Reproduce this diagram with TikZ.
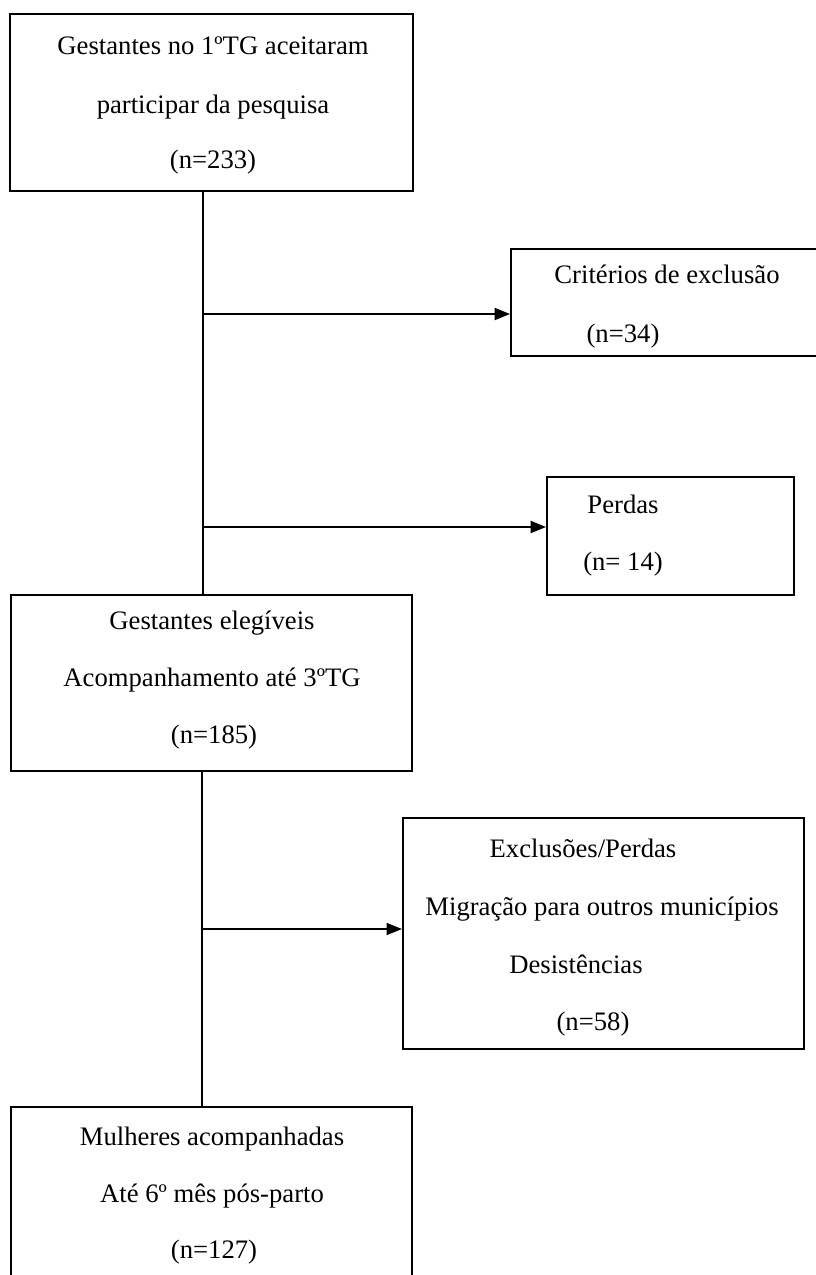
\documentclass[tikz,border=0pt]{standalone}
\usepackage{fontspec}
\setmainfont{Liberation Serif}
\usetikzlibrary{arrows.meta}
\tikzset{
  box/.style={draw, line width=1.5pt, inner sep=0pt},
  txt/.style={anchor=base, inner sep=0pt, font=\fontsize{20pt}{24pt}\selectfont},
  link/.style={line width=1.5pt},
  flow/.style={line width=1.5pt, -{Triangle[length=11.5pt, width=9pt]}}
}
\begin{document}
\begin{tikzpicture}[x=0.75pt, y=-0.75pt]
\useasboundingbox (0,0) rectangle (816,1275);
\clip (0,0) rectangle (816,1275);
\node[box, minimum width=302.25pt, minimum height=132.75pt] (start) at (211.5,102.5) {};
\node[box, minimum width=239.25pt, minimum height=80.25pt] (excl) at (670.5,302.5) {};
\node[box, minimum width=185.25pt, minimum height=88.5pt] (loss) at (670.5,536) {};
\node[box, minimum width=300.75pt, minimum height=132pt] (elig) at (211.5,683) {};
\node[box, minimum width=300.75pt, minimum height=173.25pt] (drop) at (603.5,933.5) {};
\node[box, minimum width=300.75pt, minimum height=132pt] (final) at (211.5,1195) {};
\node[txt] (start1) at (213,54) {Gestantes no 1ºTG aceitaram};
\node[txt] (start2) at (213,113) {participar da pesquisa};
\node[txt] (start3) at (213,168) {(n=233)};
\node[txt] (excl1) at (667,283) {Critérios de exclusão};
\node[txt] (excl2) at (623,342) {(n=34)};
\node[txt] (loss1) at (623,513) {Perdas};
\node[txt] (loss2) at (623,570) {(n= 14)};
\node[txt] (elig1) at (212,629) {Gestantes elegíveis};
\node[txt] (elig2) at (212,686) {Acompanhamento até 3ºTG};
\node[txt] (elig3) at (214,743) {(n=185)};
\node[txt] (drop1) at (583,857) {Exclusões/Perdas};
\node[txt] (drop2) at (602,915) {Migração para outros municípios};
\node[txt] (drop3) at (576,973) {Desistências};
\node[txt] (drop4) at (593,1030) {(n=58)};
\node[txt] (final1) at (212,1145) {Mulheres acompanhadas};
\node[txt] (final2) at (212,1202) {Até 6º mês pós-parto};
\node[txt] (final3) at (214,1258) {(n=127)};
\coordinate (j1) at (203,314);
\coordinate (j2) at (203,527);
\coordinate (j3) at (202,929);
\draw[link] (j1 |- start.south) -- (j1 |- elig.north);
\draw[link] (j3 |- elig.south) -- (j3 |- final.north);
\draw[flow] (j1) -- (j1 -| excl.west);
\draw[flow] (j2) -- (j2 -| loss.west);
\draw[flow, line width=1pt] (j3) -- (j3 -| drop.west);
\end{tikzpicture}
\end{document}
